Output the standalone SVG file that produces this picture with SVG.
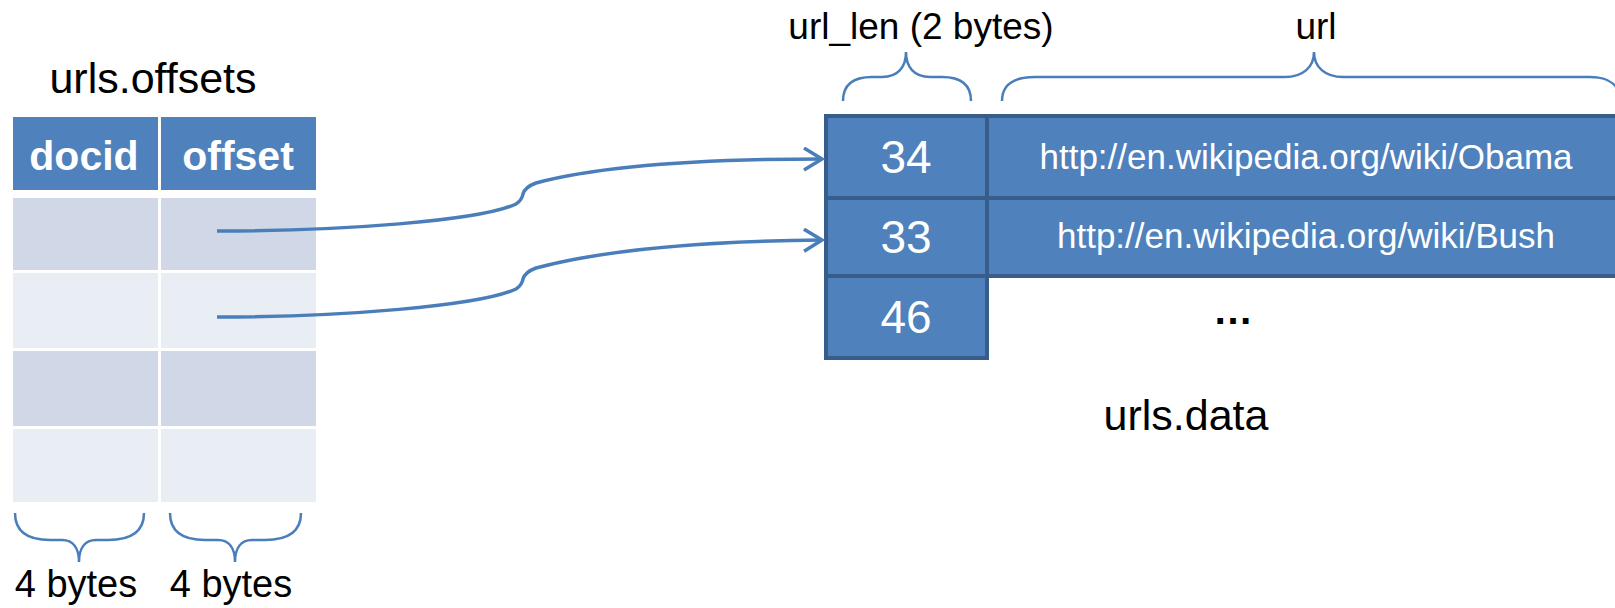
<svg xmlns="http://www.w3.org/2000/svg" width="1615" height="608" viewBox="0 0 1615 608">
<defs>
<style>
.t{font-family:"Liberation Sans",Arial,sans-serif;fill:#000}
.hd{font-family:"Liberation Sans",Arial,sans-serif;font-weight:bold;fill:#fff;font-size:41px;text-anchor:middle}
.w{font-family:"Liberation Sans",Arial,sans-serif;fill:#fff;text-anchor:middle}
.hdr{fill:#4F81BD}
.dk{fill:#D0D8E8}
.lt{fill:#E9EDF4}
.dc{fill:#4F81BD;stroke:#385D8A;stroke-width:4}
.br{fill:none;stroke:#4A7EBB;stroke-width:2.5}
.cn{fill:none;stroke:#4A7EBB;stroke-width:3.5}
</style>
<marker id="ah" markerUnits="userSpaceOnUse" markerWidth="24" markerHeight="26" refX="20" refY="12" orient="auto" viewBox="0 0 24 26">
<path d="M2,1 L20,12 L2,23" fill="none" stroke="#4A7EBB" stroke-width="3.5"/>
</marker>
</defs>
<rect width="1615" height="608" fill="#fff"/>

<g id="offsets-table">
<text class="t" x="153" y="93" font-size="43" text-anchor="middle">urls.offsets</text>
<rect class="hdr" x="13" y="117" width="145" height="73"/>
<rect class="hdr" x="161" y="117" width="155" height="73"/>
<text class="hd" x="84" y="170">docid</text>
<text class="hd" x="238" y="170">offset</text>
<rect class="dk" x="13" y="198" width="145" height="72"/>
<rect class="dk" x="161" y="198" width="155" height="72"/>
<rect class="lt" x="13" y="273" width="145" height="75"/>
<rect class="lt" x="161" y="273" width="155" height="75"/>
<rect class="dk" x="13" y="351" width="145" height="75"/>
<rect class="dk" x="161" y="351" width="155" height="75"/>
<rect class="lt" x="13" y="429" width="145" height="73"/>
<rect class="lt" x="161" y="429" width="155" height="73"/>
</g>

<g id="offsets-braces">
<path class="br" d="M15,513 C15,532 28,540 50,540 L62,540 C73,540 79,548 79,562 C79,548 85,540 96,540 L108,540 C130,540 144,532 144,513"/>
<path class="br" d="M170,513 C170,532 183,540 205,540 L218,540 C229,540 235,548 235,562 C235,548 241,540 252,540 L265,540 C287,540 301,532 301,513"/>
<text class="t" x="76" y="597" font-size="38" text-anchor="middle">4 bytes</text>
<text class="t" x="231" y="597" font-size="38" text-anchor="middle">4 bytes</text>
</g>

<g id="data-table">
<rect class="dc" x="826" y="116" width="161" height="82"/>
<rect class="dc" x="987" y="116" width="640" height="82"/>
<rect class="dc" x="826" y="198" width="161" height="78"/>
<rect class="dc" x="987" y="198" width="640" height="78"/>
<rect class="dc" x="826" y="276" width="161" height="82"/>
<text class="w" x="906" y="173" font-size="46">34</text>
<text class="w" x="906" y="253" font-size="46">33</text>
<text class="w" x="906" y="333" font-size="46">46</text>
<text class="w" x="1306" y="169" font-size="35">http://en.wikipedia.org/wiki/Obama</text>
<text class="w" x="1306" y="248" font-size="35">http://en.wikipedia.org/wiki/Bush</text>
<text class="t" x="1233" y="324" font-size="40" font-weight="bold" text-anchor="middle">…</text>
<text class="t" x="1186" y="430" font-size="43" text-anchor="middle">urls.data</text>
</g>

<g id="data-braces">
<path class="br" d="M843,101 C843,86 852,77 872,77 L882,77 C898,77 906,67 906,52 C906,67 914,77 930,77 L942,77 C962,77 971,86 971,101"/>
<path class="br" d="M1002,101 C1002,86 1012,77 1035,77 L1285,77 C1303,77 1314,67 1314,52 C1314,67 1325,77 1343,77 L1590,77 C1610,77 1620,86 1620,101"/>
<text class="t" x="921" y="39" font-size="37" text-anchor="middle">url_len (2 bytes)</text>
<text class="t" x="1316" y="39" font-size="37" text-anchor="middle">url</text>
</g>

<g id="connectors">
<path class="cn" marker-end="url(#ah)" d="M217,231 C340,231 480,221 516,204 Q522,200 523,194 Q525,187 536,183 C600,166 700,159 822,159"/>
<path class="cn" marker-end="url(#ah)" d="M217,317 C340,317 480,306 516,289 Q522,285 523,279 Q525,272 536,268 C600,251 700,241 822,240"/>
</g>
</svg>
